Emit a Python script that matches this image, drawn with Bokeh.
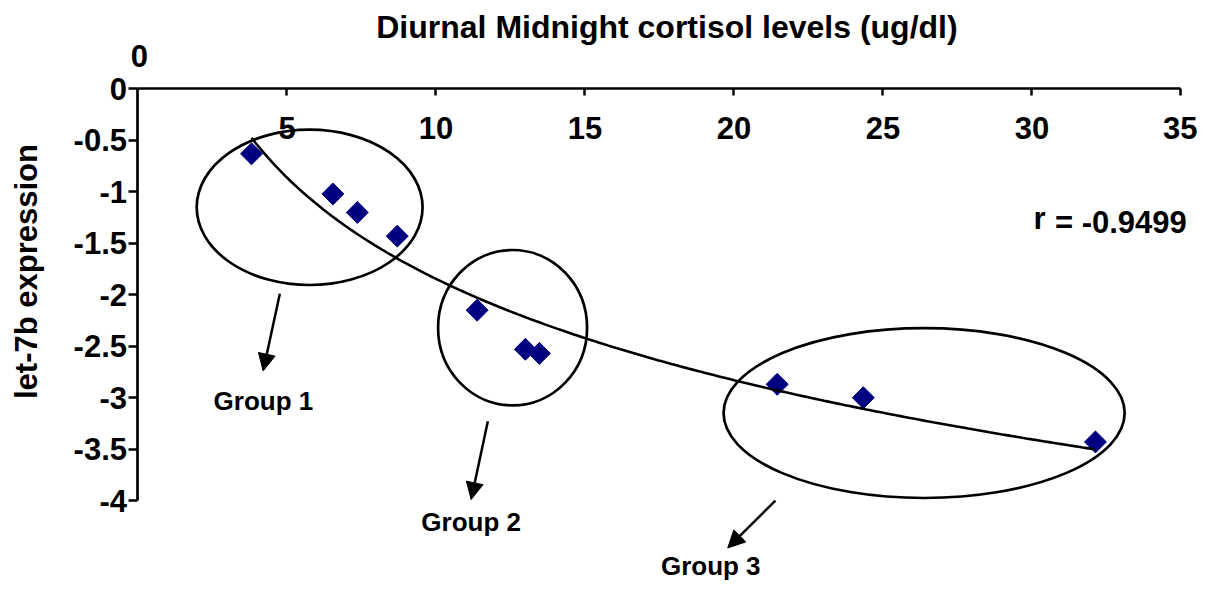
import numpy as np
from bokeh.plotting import figure
from bokeh.models import (LinearAxis, FixedTicker, Range1d, Label, Arrow, NormalHead,
                          ColumnDataSource, NumeralTickFormatter)
from bokeh.embed import file_html
from bokeh.resources import INLINE

# ---- data ----
cortisol = [3.81, 6.54, 7.36, 8.70, 11.38, 13.00, 13.47, 21.45, 24.34, 32.13]
let7b = [-0.63, -1.02, -1.20, -1.43, -2.15, -2.53, -2.57, -2.87, -3.00, -3.43]
x_ticks = [5, 10, 15, 20, 25, 30, 35]
y_ticks = [0, -0.5, -1, -1.5, -2, -2.5, -3, -3.5, -4]
x_title = "Diurnal Midnight cortisol levels (ug/dl)"
y_title = "let-7b expression"
r_text = "-0.9499"

group_names = ["Group 1", "Group 2", "Group 3"]
ell_x = [5.76, 12.57, 26.38]
ell_y = [-1.15, -2.32, -3.15]
ell_w = [7.58, 5.00, 13.46]
ell_h = [1.51, 1.51, 1.65]
arrow_x0 = [4.76, 11.74, 21.39]
arrow_y0 = [-1.99, -3.23, -4.00]
arrow_x1 = [4.20, 11.18, 19.79]
arrow_y1 = [-2.74, -3.99, -4.46]
label_x = [4.21, 11.18, 19.22]
label_y = [-3.03, -4.21, -4.64]

FONT = "Liberation Sans"

p = figure(frame_width=1197, frame_height=583, min_border=0, title=None,
           x_range=Range1d(-4.614, 35.554), y_range=Range1d(-4.806, 0.860),
           x_axis_location=None, y_axis_location="left",
           toolbar_location=None, tools="", output_backend="svg")
p.outline_line_color = None
p.grid.visible = False
p.background_fill_color = "white"
p.border_fill_color = "white"

# y axis drawn at x = 0
ya = p.yaxis[0]
ya.fixed_location = 0
ya.ticker = FixedTicker(ticks=y_ticks)
ya.formatter = NumeralTickFormatter(format="0.[0]")
ya.bounds = (-4, 0)
ya.axis_line_width = 2.7
ya.major_tick_line_width = 2.5
ya.major_tick_out = 9
ya.major_tick_in = 0
ya.minor_tick_line_color = None
ya.major_label_standoff = 2
ya.major_label_text_font = FONT
ya.major_label_text_font_size = "31px"
ya.major_label_text_font_style = "bold"
ya.major_label_text_color = "black"

# x axis drawn at y = 0, labels below the line
xa = LinearAxis(fixed_location=0, ticker=FixedTicker(ticks=x_ticks),
                formatter=NumeralTickFormatter(format="0"), bounds=(0, 35))
xa.axis_line_width = 2.7
xa.major_tick_line_width = 2.5
xa.major_tick_out = 7
xa.major_tick_in = 0
xa.minor_tick_line_color = None
xa.major_label_standoff = 21
xa.major_label_text_font = FONT
xa.major_label_text_font_size = "31px"
xa.major_label_text_font_style = "bold"
xa.major_label_text_color = "black"
p.add_layout(xa, "below")

# axis captions
p.add_layout(Label(x=17.75, y=0.598, text=x_title, text_align="center", text_baseline="middle",
                   text_font=FONT, text_font_size="32px", text_font_style="bold",
                   text_color="black"))
p.add_layout(Label(x=-3.74, y=-1.774, text=y_title, angle=np.pi / 2,
                   text_align="center", text_baseline="middle",
                   text_font=FONT, text_font_size="31px", text_font_style="bold",
                   text_color="black"))

# "0" shown above the axis origin
p.add_layout(Label(x=0.05, y=0.316, text="0", text_align="center", text_baseline="middle",
                   text_font=FONT, text_font_size="31px", text_font_style="bold",
                   text_color="black"))

# points
p.scatter(cortisol, let7b, marker="square", size=15.5, angle=np.pi / 4,
          fill_color="#000080", line_color="#000080")

# logarithmic trend line fitted to the points
lx = np.log(np.array(cortisol))
coef = np.polyfit(lx, np.array(let7b), 1)
xs = np.linspace(min(cortisol), max(cortisol), 200)
p.line(xs, np.polyval(coef, np.log(xs)), line_color="black", line_width=2.6)

# group ellipses
p.ellipse(x=ell_x, y=ell_y, width=ell_w, height=ell_h,
          fill_color=None, line_color="black", line_width=2.7)

# arrows
asrc = ColumnDataSource(dict(x0=arrow_x0, y0=arrow_y0, x1=arrow_x1, y1=arrow_y1))
p.add_layout(Arrow(end=NormalHead(size=17, fill_color="black", line_color="black", line_width=1),
                   x_start="x0", y_start="y0", x_end="x1", y_end="y1", source=asrc,
                   line_color="black", line_width=2.5))

for name, gx, gy in zip(group_names, label_x, label_y):
    p.add_layout(Label(x=gx, y=gy, text=name, text_align="center", text_baseline="middle",
                       text_font=FONT, text_font_size="26px", text_font_style="bold",
                       text_color="black"))

# correlation coefficient
p.add_layout(Label(x=30.05, y=-1.254, text="r", text_align="left", text_baseline="middle",
                   text_font=FONT, text_font_size="31px", text_font_style="bold",
                   text_color="black"))
p.add_layout(Label(x=30.77, y=-1.294, text="= " + r_text, text_align="left",
                   text_baseline="middle", text_font=FONT, text_font_size="31px",
                   text_font_style="bold", text_color="black"))

open("out.html", "w").write(file_html(p, INLINE))
